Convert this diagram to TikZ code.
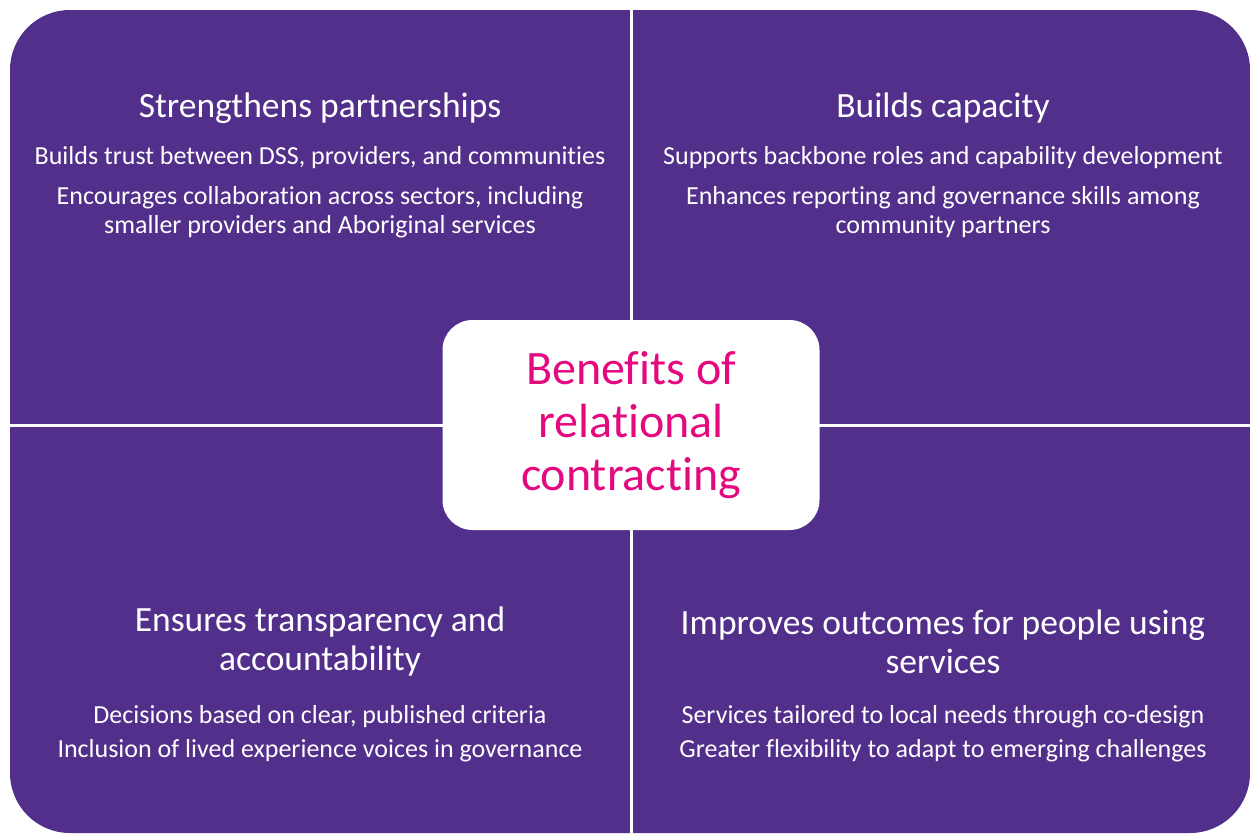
\documentclass[tikz,border=0pt]{standalone}
\usepackage{fontspec}
\usepackage{xcolor}
\setmainfont{Carlito}[Ligatures=NoCommon]
\definecolor{quadpurple}{HTML}{512F8B}
\definecolor{hubpink}{HTML}{E5097F}
\newcommand\headsize{\fontsize{35.5}{39}\selectfont}
\newcommand\itemsize{\fontsize{26}{29}\selectfont}
\newcommand\hubsize{\fontsize{48}{53}\selectfont}
\tikzset{
  quadhead/.style={text=white, align=center, font=\headsize, inner sep=0pt},
  quaditem/.style={text=white, align=center, font=\itemsize, inner sep=0pt},
  hubbox/.style={fill=white, rounded corners=30pt, minimum width=377pt, minimum height=210pt,
    text=hubpink, align=center, font=\hubsize, inner sep=0pt}
}

\begin{document}
\begin{tikzpicture}[x=1pt, y=-1pt]
\useasboundingbox (0,0) rectangle (1250,835);

\fill[quadpurple, rounded corners=60pt] (10,10) rectangle (1250,833);
\draw[white, line width=3pt] (631,5) -- (631,838);
\draw[white, line width=3pt] (5,425) -- (1255,425);

\node[quadhead] (headTL) at (320,108) {Strengthens partnerships};
\node[quaditem] (itemTLa) at (320,158) {Builds trust between DSS, providers, and communities};
\node[quaditem] (itemTLb) at (320,212) {Encourages collaboration across sectors, including\\smaller providers and Aboriginal services};

\node[quadhead] (headTR) at (943,108) {Builds capacity};
\node[quaditem] (itemTRa) at (943,158) {Supports backbone roles and capability development};
\node[quaditem] (itemTRb) at (943,212) {Enhances reporting and governance skills among\\community partners};

\node[quadhead] (headBL) at (320,642) {Ensures transparency and\\accountability};
\node[quaditem] (itemBLa) at (320,717) {Decisions based on clear, published criteria};
\node[quaditem] (itemBLb) at (320,751) {Inclusion of lived experience voices in governance};

\node[quadhead] (headBR) at (943,642) {Improves outcomes for people using\\services};
\node[quaditem] (itemBRa) at (943,717) {Services tailored to local needs through co-design};
\node[quaditem] (itemBRb) at (943,751) {Greater flexibility to adapt to emerging challenges};

\node[hubbox] (hub) at (631,425) {Benefits of\\relational\\contracting};
\end{tikzpicture}
\end{document}
